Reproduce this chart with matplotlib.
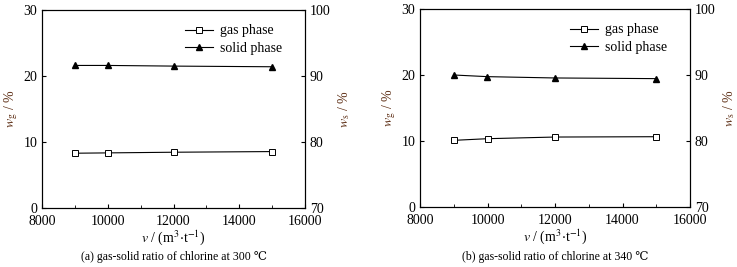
import numpy as np
import matplotlib.pyplot as plt
from matplotlib.ticker import MultipleLocator

plt.rcParams['font.family'] = ['Liberation Serif', 'DejaVu Serif']
plt.rcParams['mathtext.fontset'] = 'stix'

# Données
v = [9000, 10000, 12000, 15000]
gaz_a = [8.3, 8.35, 8.45, 8.55]
solide_a = [91.6, 91.6, 91.5, 91.4]
gaz_b = [10.1, 10.35, 10.6, 10.65]
solide_b = [90.0, 89.75, 89.55, 89.45]
titres = ["(a) gas-solid ratio of chlorine at 300 \u2103",
          "(b) gas-solid ratio of chlorine at 340 \u2103"]

fig = plt.figure(figsize=(7.37, 2.67), dpi=100)
# positions des axes en pixels (gauche, droite, haut, bas)
boites = [(42, 305, 10, 208), (420, 690, 9, 207)]
brun = "#5a2a10"

for (g, d, h, b), gaz, solide, titre in zip(boites, [gaz_a, gaz_b], [solide_a, solide_b], titres):
    ax = fig.add_axes([g / 737, 1 - b / 267, (d - g) / 737, (b - h) / 267])
    ax2 = ax.twinx()
    l1, = ax.plot(v, gaz, "-", color="black", lw=0.8, marker="s", ms=4,
                  mfc="white", mec="black", mew=0.7, label="gas phase")
    l2, = ax2.plot(v, solide, "-", color="black", lw=0.8, marker="^", ms=4.5,
                   mfc="black", mec="black", label="solid phase")
    ax.set_xlim(8000, 16000)
    ax.set_ylim(0, 30)
    ax2.set_ylim(70, 100)
    ax.xaxis.set_major_locator(MultipleLocator(2000))
    ax.xaxis.set_minor_locator(MultipleLocator(1000))
    ax.yaxis.set_major_locator(MultipleLocator(10))
    ax2.yaxis.set_major_locator(MultipleLocator(10))
    ax.tick_params(which="both", direction="in", labelsize=10, length=3)
    ax.tick_params(which="minor", length=2)
    ax.tick_params(axis="x", pad=5)
    ax2.tick_params(direction="in", labelsize=10, length=3)
    for a in (ax, ax2):
        for s in a.spines.values():
            s.set_linewidth(0.8)
    ax.set_ylabel(r"$w_{\mathrm{g}}$ / %", fontsize=10, color=brun, labelpad=2)
    ax2.set_ylabel(r"$w_{\mathrm{s}}$ / %", fontsize=10, color=brun, labelpad=4)
    ax.set_xlabel(r"$v$ / (m$^3$$\cdot$t$^{-1}$)", fontsize=10, labelpad=0)
    ax.legend(handles=[l1, l2], loc="upper right", frameon=False, fontsize=10,
              handlelength=2.0, handletextpad=0.5, labelspacing=0.3,
              bbox_to_anchor=(0.96, 0.99))
    fig.text((g + d) / 2 / 737, 1 - 257 / 267, titre, ha="center", va="center", fontsize=8.5)

fig.savefig("out.png", dpi=100)
